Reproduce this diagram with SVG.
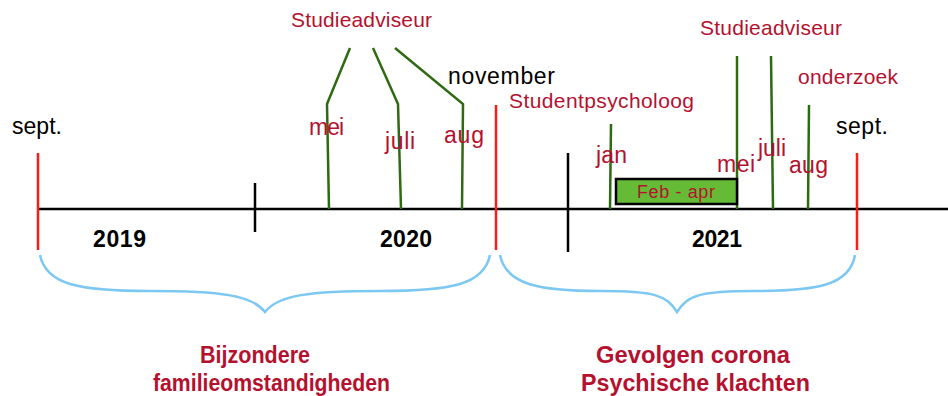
<svg xmlns="http://www.w3.org/2000/svg" width="948" height="396" viewBox="0 0 948 396">
<style>
text{font-family:"Liberation Sans",Arial,sans-serif}
.r{fill:#b5112f;font-size:21px}
.m{fill:#b5112f;font-size:23px}
.k{fill:#000;font-size:23px}
.y{fill:#000;font-size:23px;font-weight:bold}
.b{fill:#b5112f;font-size:23px;font-weight:bold}
.g{stroke:#2e6a12;stroke-width:2.5;fill:none}
.rl{stroke:#ff1a1a;stroke-width:2.5}
.bl{stroke:#000;stroke-width:2.5}
.br{stroke:#7cc8f2;stroke-width:2.5;fill:none}
</style>
<g id="connectors">
<line class="bl" x1="38" y1="209" x2="948" y2="209"/>
<line class="bl" x1="255" y1="183" x2="255" y2="232"/>
<line class="bl" x1="568" y1="153" x2="568" y2="252"/>
<line class="rl" x1="38" y1="153" x2="38" y2="250"/>
<line class="rl" x1="496" y1="105" x2="496" y2="250"/>
<line class="rl" x1="857" y1="153" x2="857" y2="250"/>
<polyline class="g" points="350,48 327,104 329,209"/>
<polyline class="g" points="373,48 398,104 401,209"/>
<polyline class="g" points="395,48 463,104 462,209"/>
<line class="g" x1="611" y1="124" x2="610" y2="209"/>
<line class="g" x1="737" y1="56" x2="737" y2="209"/>
<line class="g" x1="771" y1="56" x2="773" y2="209"/>
<line class="g" x1="809" y1="105" x2="808" y2="209"/>
<path class="br" d="M40,255 C46,285 80,291 150,291 C220,291 252,295 265,312 C278,295 310,291 380,291 C450,291 484,285 490,255"/>
<path class="br" d="M500,255 C506,285 540,291 600,291 C655,291 666,295 677,312 C688,295 700,291 755,291 C818,291 850,285 855,255"/>
</g>
<g id="feb-apr">
<rect x="616" y="179" width="121" height="25" fill="#66bb36" stroke="#000" stroke-width="2.5"/>
<text class="r" x="637" y="198" textLength="78" style="font-size:18px">Feb - apr</text>
</g>
<g id="labels-2020">
<text class="k" x="12" y="134" textLength="50">sept.</text>
<text class="r" x="291" y="27" textLength="141">Studieadviseur</text>
<text class="k" x="448" y="84" textLength="107">november</text>
<text class="r" x="509" y="108" textLength="185">Studentpsycholoog</text>
<text class="m" x="309" y="135" textLength="35">mei</text>
<text class="m" x="385" y="149" textLength="30">juli</text>
<text class="m" x="444" y="143" textLength="40">aug</text>
</g>
<g id="labels-2021">
<text class="m" x="596" y="163" textLength="31">jan</text>
<text class="m" x="717" y="172" textLength="38">mei</text>
<text class="m" x="758" y="156" textLength="28">juli</text>
<text class="m" x="789" y="173" textLength="39">aug</text>
<text class="r" x="700" y="35" textLength="142">Studieadviseur</text>
<text class="r" x="798" y="84" textLength="100">onderzoek</text>
<text class="k" x="836" y="134" textLength="52">sept.</text>
</g>
<g id="years">
<text class="y" x="93" y="247" textLength="53">2019</text>
<text class="y" x="380" y="247" textLength="52">2020</text>
<text class="y" x="692" y="247" textLength="50">2021</text>
</g>
<g id="periods">
<text class="b" x="200" y="363" textLength="110" lengthAdjust="spacingAndGlyphs">Bijzondere</text>
<text class="b" x="153" y="391" textLength="237" lengthAdjust="spacingAndGlyphs">familieomstandigheden</text>
<text class="b" x="596" y="363" textLength="194" lengthAdjust="spacingAndGlyphs">Gevolgen corona</text>
<text class="b" x="581" y="391" textLength="229" lengthAdjust="spacingAndGlyphs">Psychische klachten</text>
</g>
</svg>
